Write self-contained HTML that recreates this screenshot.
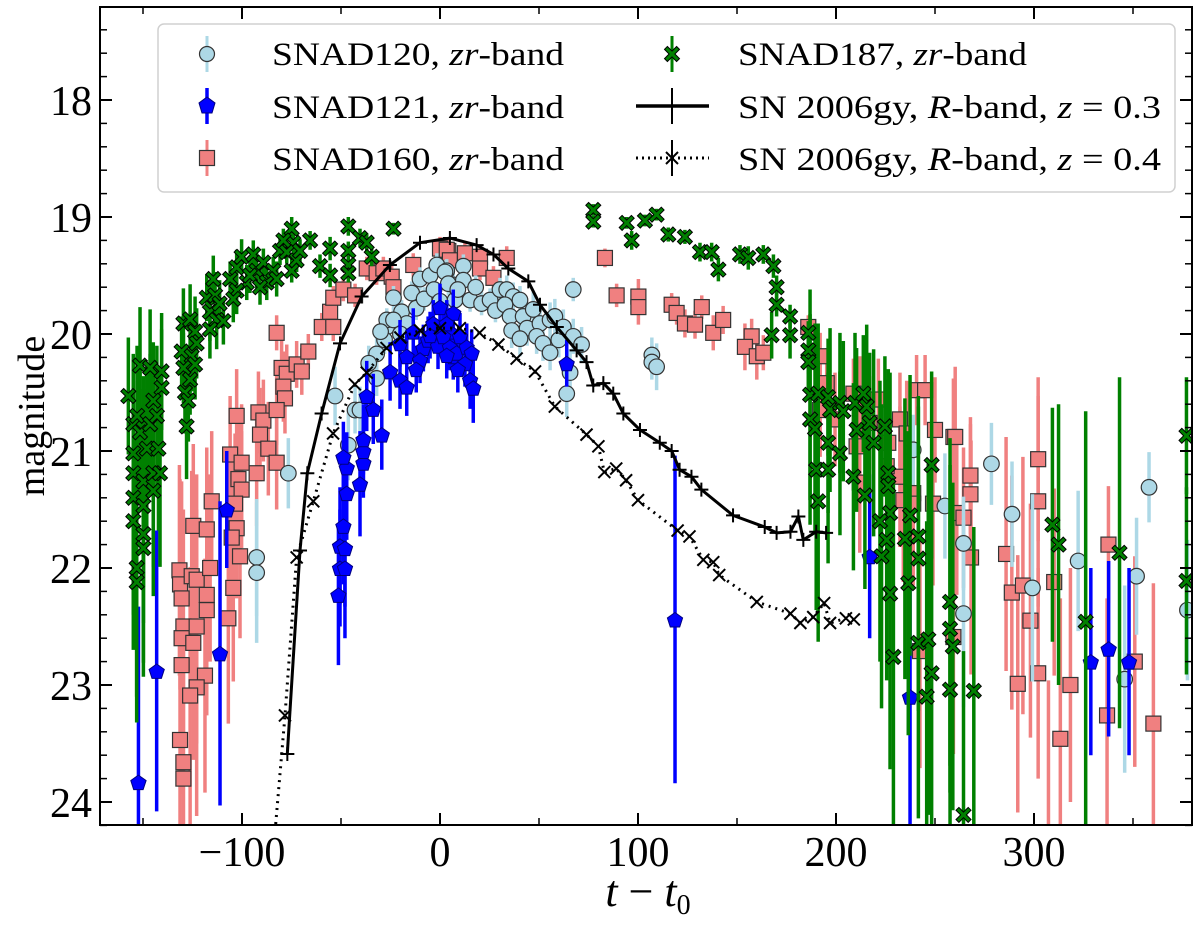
<!DOCTYPE html>
<html><head><meta charset="utf-8"><style>
html,body{margin:0;padding:0;background:#fff;width:1200px;height:925px;overflow:hidden;}
svg{display:block;font-family:"Liberation Serif","DejaVu Serif",serif;}
</style></head><body>
<svg id="chart" width="1200" height="925" viewBox="0 0 1200 925" xmlns="http://www.w3.org/2000/svg">
<g id="plot"></g>
<g id="axes"></g>
<g id="legend">
<rect x="158" y="24" width="1017" height="168" rx="6" fill="#fff" fill-opacity="0.85" stroke="#d0d0d0" stroke-width="1.5"/>
<g>
<line x1="207" y1="36" x2="207" y2="72" stroke="#add8e6" stroke-width="3"/>
<circle cx="207" cy="54" r="7.5" fill="#add8e6" stroke="#333" stroke-width="1.2"/>
<text x="272" y="65" font-size="33" textLength="292" lengthAdjust="spacingAndGlyphs">SNAD120, <tspan font-style="italic">zr</tspan>-band</text></g>
<g>
<line x1="207" y1="88" x2="207" y2="124" stroke="#0000ff" stroke-width="3.5"/>
<polygon points="207,97 215,103 212,113 202,113 199,103" fill="#0000ff" stroke="#000080" stroke-width="1"/>
<text x="272" y="118" font-size="33" textLength="292" lengthAdjust="spacingAndGlyphs">SNAD121, <tspan font-style="italic">zr</tspan>-band</text></g>
<g>
<line x1="207" y1="140" x2="207" y2="176" stroke="#f08080" stroke-width="3"/>
<rect x="199.5" y="150.5" width="15" height="15" fill="#f08080" stroke="#333" stroke-width="1.2"/>
<text x="272" y="170" font-size="33" textLength="292" lengthAdjust="spacingAndGlyphs">SNAD160, <tspan font-style="italic">zr</tspan>-band</text></g>
<g>
<line x1="672" y1="36" x2="672" y2="72" stroke="#008000" stroke-width="3"/>
<g id="legX"></g>
<text x="738" y="65" font-size="33" textLength="289" lengthAdjust="spacingAndGlyphs">SNAD187, <tspan font-style="italic">zr</tspan>-band</text></g>
<g>
<line x1="636" y1="106" x2="709" y2="106" stroke="#000" stroke-width="3.5"/>
<line x1="672" y1="88" x2="672" y2="124" stroke="#000" stroke-width="2"/>
<text x="738" y="118" font-size="33" textLength="423" lengthAdjust="spacingAndGlyphs">SN 2006gy, <tspan font-style="italic">R</tspan>-band, <tspan font-style="italic">z</tspan> = 0.3</text></g>
<g>
<line x1="636" y1="158" x2="709" y2="158" stroke="#000" stroke-width="3" stroke-dasharray="2,4"/>
<line x1="672" y1="140" x2="672" y2="176" stroke="#000" stroke-width="2"/>
<path d="M666,152 L678,164 M678,152 L666,164" stroke="#000" stroke-width="2"/>
<text x="738" y="170" font-size="33" textLength="423" lengthAdjust="spacingAndGlyphs">SN 2006gy, <tspan font-style="italic">R</tspan>-band, <tspan font-style="italic">z</tspan> = 0.4</text></g>
</g>
</svg>
<script>
// ---- data: [t - t0, magnitude, error] ----
const snad120 = [[-76.6,21.19,0.3],[-92.6,21.91,0.5],[-92.6,22.04,0.6],[-53,20.53,0.25],[-46.3,20.95,0.3],[-42.9,20.65,0.2],[-40.4,20.65,0.2],[-32,20.38,0.15],[-32,20.17,0.15],[-26.9,19.94,0.12],[-26.9,19.88,0.1],[-23.5,19.69,0.1],[-19.4,19.81,0.1],[-14.3,19.65,0.1],[-10.1,19.53,0.1],[-5,19.5,0.1],[-1.6,19.41,0.1],[3.4,19.46,0.1],[6.7,19.58,0.1],[-16.8,19.91,0.1],[-23.5,19.88,0.1],[-20,20.0,0.12],[-12,19.78,0.1],[-8,19.7,0.1],[-3,19.62,0.1],[0,19.72,0.1],[-28,20.05,0.12],[-36,20.25,0.15],[-30,19.98,0.12],[2.5,19.47,0.1],[4.2,19.57,0.1],[7.6,19.71,0.1],[11.8,19.42,0.1],[11.8,19.54,0.1],[15.2,19.71,0.1],[9,19.62,0.1],[18,19.6,0.1],[21,19.74,0.1],[25.3,19.71,0.1],[28,19.8,0.1],[30.3,19.62,0.1],[33.7,19.62,0.12],[37,19.68,0.12],[40.4,19.71,0.12],[32.8,19.75,0.12],[35.4,19.85,0.12],[42,19.85,0.15],[44,19.95,0.15],[36.2,19.97,0.15],[40.4,20.04,0.15],[47.1,19.79,0.15],[50.5,19.91,0.15],[48.8,20.02,0.15],[52,20.08,0.15],[55.6,19.88,0.15],[58,19.85,0.15],[55.6,20.16,0.15],[60,20.05,0.15],[62.3,19.94,0.15],[67.3,20.02,0.15],[71.5,20.09,0.15],[65.7,20.33,0.2],[64,20.51,0.2],[67.3,19.62,0.1],[107,20.18,0.15],[107,20.24,0.15],[109.4,20.28,0.2],[239,20.99,0.3],[255,21.47,0.45],[278.5,21.11,0.35],[288.9,21.54,0.45],[264.4,21.79,0.4],[264.4,22.39,0.8],[299.2,22.17,0.8],[322.3,21.94,0.6],[351.8,22.07,0.5],[358.1,21.31,0.3],[345.8,22.95,0.8],[377.5,22.36,0.6]];
const snad121 = [[-152.3,23.83,1.5],[-143.1,22.88,1.2],[-107.7,21.5,0.5],[-111.1,22.73,1.3],[-51.3,22.23,0.6],[-50.5,22.0,0.5],[-48,22.0,0.6],[-50.5,21.81,0.5],[-48,21.83,0.5],[-48.8,21.64,0.5],[-47.1,21.36,0.4],[-47.1,21.14,0.3],[-48.8,21.05,0.3],[-40.4,21.28,0.45],[-38.7,21.1,0.3],[-38.7,21.0,0.3],[-38.7,20.9,0.3],[-29.4,20.86,0.3],[-33.7,20.64,0.3],[-37,20.53,0.3],[-25.2,20.32,0.25],[-20.2,20.39,0.25],[-16.8,20.45,0.25],[-20.2,20.08,0.2],[-16.8,20.19,0.2],[-13.5,19.98,0.2],[-8.4,20.12,0.2],[0,19.77,0.2],[-3.4,19.91,0.2],[-10.1,20.22,0.2],[-12,20.3,0.2],[-6,20.05,0.2],[-1,20.1,0.2],[2,19.95,0.2],[5,19.98,0.2],[6.7,20.19,0.2],[-5,20.01,0.2],[6.7,19.82,0.2],[3.4,19.91,0.2],[1.7,20.02,0.2],[5,20.11,0.2],[8.4,20.16,0.2],[10.1,20.02,0.2],[13.5,20.11,0.2],[16,20.16,0.2],[12.6,20.25,0.2],[3.4,20.18,0.2],[9,20.3,0.2],[15.2,20.39,0.25],[16.8,20.46,0.3],[64,20.25,0.2],[118.7,22.44,1.4],[217,21.9,0.7],[237.4,23.1,1.2],[328.7,22.8,0.8],[337.7,22.69,0.75],[348,22.8,0.8]];
const snad160 = [[-131.6,22.02,0.9],[-131.3,22.14,0.9],[-130.5,22.26,1.0],[-125.4,22.07,0.9],[-122.9,22.1,0.9],[-117.8,22.23,0.9],[-117.8,22.36,0.9],[-116.1,22.0,0.8],[-129.6,22.5,1.0],[-130.5,22.6,1.0],[-122.9,22.5,1.0],[-124.6,22.64,1.0],[-130.5,22.83,1.1],[-118.7,22.92,1.0],[-122.9,23.02,1.1],[-126.2,23.09,1.1],[-131.3,23.47,1.2],[-129.6,23.66,1.2],[-129.6,23.8,1.2],[-124.6,21.64,0.7],[-117.8,21.67,0.7],[-115.3,21.43,0.6],[-106,21.03,0.5],[-100.2,21.1,0.5],[-101.8,21.24,0.5],[-100.2,21.33,0.5],[-103.5,21.45,0.6],[-102.7,21.66,0.6],[-105.2,21.74,0.7],[-101,21.9,0.7],[-104.4,22.17,0.8],[-106.9,22.43,0.9],[-102.7,20.7,0.4],[-91.7,20.67,0.35],[-89.2,20.74,0.35],[-90.9,20.86,0.4],[-86.7,20.98,0.4],[-82.5,21.1,0.4],[-92.6,21.19,0.45],[-82.5,19.99,0.15],[-80,20.29,0.25],[-77.4,20.34,0.25],[-72.4,20.26,0.2],[-66.5,20.15,0.15],[-69.8,20.32,0.2],[-79.1,20.45,0.3],[-78.3,20.55,0.3],[-82.5,20.65,0.3],[-59.7,19.94,0.12],[-55.5,19.81,0.12],[-53.9,19.94,0.12],[-53.9,19.69,0.1],[-48.8,19.62,0.1],[-42.9,19.67,0.1],[-37,19.44,0.1],[-32,19.48,0.1],[-28.6,19.44,0.1],[-24.4,19.51,0.1],[-23.5,19.6,0.1],[-13.5,19.41,0.1],[0,19.27,0.1],[4.2,19.29,0.1],[3.4,19.28,0.1],[5,19.37,0.1],[12.6,19.31,0.1],[20.2,19.34,0.1],[20.2,19.44,0.1],[33.7,19.35,0.1],[27,19.52,0.1],[83.3,19.35,0.08],[89.2,19.67,0.1],[100.2,19.68,0.15],[100.2,19.77,0.15],[117,19.75,0.1],[119.5,19.82,0.1],[123.7,19.91,0.12],[128.8,19.92,0.12],[132.2,19.77,0.1],[138,19.99,0.15],[143,19.88,0.12],[157.4,20.02,0.15],[154,20.11,0.2],[160,20.19,0.2],[163.3,20.16,0.15],[186,19.94,0.1],[192,20.19,0.2],[195.3,20.42,0.3],[192,20.65,0.4],[199.5,20.73,0.4],[208.8,20.51,0.3],[212,20.59,0.4],[221.4,20.56,0.35],[217,20.76,0.4],[210.4,20.96,0.5],[212,21.27,0.6],[226.4,20.93,0.5],[232.3,20.73,0.4],[235.7,20.85,0.45],[240.7,20.48,0.3],[245,20.48,0.3],[250,20.82,0.45],[259.3,20.88,0.5],[232.3,21.22,0.6],[239,21.36,0.6],[239,21.45,0.7],[234,21.42,0.7],[249,21.45,0.7],[261,21.53,0.7],[242.4,22.71,1.0],[259.3,22.59,1.0],[225.6,21.13,0.5],[260.2,20.88,0.6],[267.9,21.21,0.5],[267.9,21.37,0.6],[264.4,21.57,0.6],[268.2,21.91,1.0],[302.1,21.07,0.7],[302.1,21.43,0.9],[285.9,21.88,1.0],[288.8,22.21,1.0],[294.4,22.15,1.1],[298.2,22.45,1.0],[310.2,22.12,0.8],[291.8,22.99,1.1],[302.1,22.9,0.9],[318.4,23.0,1.0],[313.3,23.46,1.2],[337.6,21.8,0.5],[336.9,23.26,1.0],[350.9,22.8,0.9],[360.3,23.33,1.2],[307.3,24.16,1.2]];
const snad187 = [[-157.4,20.53,0.5],[-151.5,20.27,0.5],[-146.4,20.29,0.5],[-140.6,20.32,0.5],[-140.6,20.46,0.5],[-154.9,20.77,0.6],[-151.5,20.84,0.6],[-144.8,20.57,0.5],[-154.9,21.02,0.8],[-148.1,20.98,0.7],[-142.2,20.98,0.7],[-154.9,21.19,0.9],[-149.8,21.26,0.9],[-144.8,21.19,0.8],[-141.4,21.19,0.8],[-154.9,21.4,1.0],[-149.8,21.47,1.0],[-144.8,21.34,0.9],[-154.9,21.6,1.1],[-149.8,21.71,1.1],[-149.8,21.83,1.1],[-153.2,22.0,1.1],[-153.2,22.12,1.2],[-153,20.7,0.6],[-146.4,20.77,0.6],[-143,20.7,0.6],[-129.6,19.91,0.3],[-126.2,19.875,0.3],[-123.7,19.98,0.3],[-130.5,20.15,0.3],[-125.4,20.19,0.3],[-122.9,20.08,0.3],[-129.6,20.29,0.3],[-126.2,20.39,0.3],[-128.8,20.5,0.35],[-127.1,20.57,0.35],[-128,20.79,0.45],[-123.7,20.26,0.3],[-114.5,19.53,0.2],[-117.8,19.69,0.2],[-113.6,19.67,0.2],[-116.2,19.81,0.25],[-111.3,19.74,0.2],[-112.8,19.88,0.25],[-109.4,19.89,0.2],[-116.2,19.96,0.25],[-106,19.53,0.15],[-102.7,19.43,0.15],[-100.2,19.34,0.15],[-97.6,19.56,0.15],[-94.3,19.32,0.12],[-92.6,19.46,0.15],[-89.2,19.39,0.12],[-87.5,19.56,0.15],[-84.2,19.46,0.12],[-80.8,19.29,0.12],[-102.7,19.63,0.2],[-96,19.5,0.15],[-82.5,19.53,0.15],[-90.9,19.6,0.15],[-104.4,19.7,0.2],[-74.9,19.1,0.1],[-74.1,19.22,0.1],[-77.4,19.3,0.1],[-72.4,19.37,0.1],[-74.9,19.46,0.1],[-65.6,19.2,0.08],[-79.1,19.2,0.1],[-70.7,19.29,0.1],[-60.6,19.42,0.1],[-55.5,19.27,0.1],[-55.5,19.5,0.1],[-46.3,19.08,0.08],[-46.3,19.29,0.08],[-46.3,19.41,0.08],[-46.3,19.48,0.08],[-40.4,19.18,0.08],[-37,19.22,0.08],[-34.5,19.34,0.08],[-23.5,19.1,0.05],[77.4,18.94,0.05],[77.4,19.04,0.05],[94.3,19.05,0.05],[96.8,19.2,0.08],[103.5,19.03,0.05],[109.4,18.98,0.05],[115.3,19.15,0.06],[123.7,19.17,0.06],[131.3,19.3,0.08],[137.2,19.3,0.08],[140.6,19.45,0.1],[151.5,19.32,0.08],[155.7,19.35,0.1],[163.3,19.32,0.08],[168.4,19.42,0.1],[170,19.6,0.1],[170,19.75,0.1],[176.8,19.85,0.1],[167.5,20.01,0.2],[176.8,20.01,0.2],[186,19.99,0.1],[186,20.14,0.2],[186,20.24,0.3],[186.9,20.52,0.9],[191,20.51,0.6],[196,20.54,0.5],[186.9,20.73,0.9],[189.4,20.81,0.9],[197,20.65,0.7],[202,20.59,0.6],[203.7,20.66,0.6],[196,20.93,0.6],[202,21.02,0.7],[190,21.16,1.2],[196,21.16,0.8],[191,21.43,1.2],[209.6,20.59,0.6],[213.8,20.51,0.5],[215.5,20.62,0.7],[210.4,20.82,0.7],[217,20.76,0.6],[219,20.93,0.8],[208.8,21.22,0.8],[214.6,21.38,0.8],[224.7,20.79,0.6],[226.4,21.19,0.8],[226.4,21.3,1.0],[227.3,21.53,1.2],[222.2,21.6,1.2],[225.6,21.76,1.2],[223,21.9,1.3],[227.3,22.22,1.5],[229,22.76,1.5],[237.4,21.55,1.2],[234.8,21.75,1.2],[241.6,21.73,1.2],[241.6,21.92,1.3],[236.5,22.13,1.3],[241.6,22.64,1.5],[246.6,22.61,1.5],[248.3,21.12,0.8],[257.6,22.29,1.4],[257.6,22.52,1.4],[248.3,22.9,1.4],[245.8,23.1,1.5],[257.6,23.04,1.5],[259,22.67,1.4],[309.3,21.63,1.0],[312.4,21.8,1.2],[326.1,22.46,1.8],[343.2,21.87,1.5],[269.6,23.05,1.4],[264.4,24.11,1.4],[377,22.11,0.8],[377,20.87,0.5]];
const gy03_t = [-77.1,-70.7,-67,-59.8,-50.5,-39.6,-25.3,-10.1,5,18.5,27,34.5,44.6,50.5,59,69,74,77.4,82.5,87.5,92.6,101,111,117,121,127,132,148,164,170,177,181,183.5,190,195];
const gy03_m = [23.59,21.85,21.19,20.68,20.08,19.68,19.41,19.22,19.18,19.24,19.32,19.44,19.55,19.75,19.94,20.14,20.24,20.44,20.42,20.51,20.68,20.82,20.93,21.0,21.16,21.22,21.33,21.55,21.65,21.7,21.69,21.56,21.76,21.69,21.7];
const gy04_t = [-83,-78.3,-72.4,-64,-54,-43,-37,-27,-20,-10,0,10,20,29.5,38.7,48,58,74,80,83,89,94,100,120,126,133,138,141,160,177,182,188.5,194,197,205,209];
const gy04_m = [24.3,23.26,21.91,21.43,20.85,20.43,20.33,20.12,20.03,19.97,19.95,19.95,19.99,20.09,20.21,20.32,20.62,20.86,20.96,21.18,21.15,21.25,21.42,21.68,21.73,21.93,21.95,22.06,22.29,22.39,22.47,22.42,22.3,22.47,22.43,22.44];
const xTicks = [-100,0,100,200,300];
const xMinor = [-150,-50,50,150,250,350];
const yTicks = [18,19,20,21,22,23,24];

// ---- axes ----
const L=100,R=1192,T=7,B=825, X0=440, XS=1.98, Y18=100, YS=117;
const X = t => X0 + t*XS;
const Y = m => Y18 + (m-18)*YS;
const cy = v => Math.max(T+1, Math.min(B-1, v));
const NS='http://www.w3.org/2000/svg';
const plot=document.getElementById('plot'), axes=document.getElementById('axes');
function mk(tag,attrs,parent){const e=document.createElementNS(NS,tag);for(const k in attrs)e.setAttribute(k,attrs[k]);parent.appendChild(e);return e;}
const clip=mk('clipPath',{id:'clp'},plot); mk('rect',{x:L,y:T,width:R-L,height:B-T},clip);
const g=mk('g',{'clip-path':'url(#clp)'},plot);



function xShape(cx,cy0,s){const a=s*0.38,b=s;
 const p=[[0,-a],[b-a,-b],[b,-b+a],[a,0],[b,b-a],[b-a,b],[0,a],[-b+a,b],[-b,b-a],[-a,0],[-b,-b+a],[-b+a,-b]];
 return p.map(q=>(cx+q[0]).toFixed(1)+','+(cy0+q[1]).toFixed(1)).join(' ');}
function pent(cx,cy0,r){let s=[];for(let i=0;i<5;i++){const a=-Math.PI/2+i*2*Math.PI/5;s.push((cx+r*Math.cos(a)).toFixed(1)+','+(cy0+r*Math.sin(a)).toFixed(1));}return s.join(' ');}

function series(data,name,ecol,ew,drawMarker){
 const sg=mk('g',{},g);
 
 
 data.forEach(d=>{const x=X(d[0]);
  const el=mk('line',{x1:x,x2:x,y1:cy(Y(d[1]-d[2])),y2:cy(Y(d[1]+d[2])),stroke:ecol,'stroke-width':ew},sg);
  
  });
 data.forEach(d=>{const yy=Y(d[1]); if(yy>B-8) return;
  const m=drawMarker(X(d[0]),yy,sg);
  
  });
}
series(snad160,'snad160','#f08080',3.5,(x,y,p)=>mk('rect',{x:x-7.5,y:y-7.5,width:15,height:15,fill:'#f08080',stroke:'#333','stroke-width':1.2},p));
series(snad120,'snad120','#add8e6',3.5,(x,y,p)=>mk('circle',{cx:x,cy:y,r:7.8,fill:'#add8e6',stroke:'#333','stroke-width':1.2},p));
series(snad121,'snad121','#0000ff',3.5,(x,y,p)=>mk('polygon',{points:pent(x,y+1,8),fill:'#0000ff',stroke:'#000080','stroke-width':1},p));
series(snad187,'snad187','#008000',3.5,(x,y,p)=>mk('polygon',{points:xShape(x,y,7.5),fill:'#008000',stroke:'#000','stroke-width':1},p));

function curve(ts,ms,name,dash,marker){
 const pts=ts.map((t,i)=>X(t).toFixed(1)+','+cy(Y(ms[i])).toFixed(1)).join(' ');
 const pl=mk('polyline',{points:pts,fill:'none',stroke:'#000','stroke-width':3,'stroke-dasharray':dash,'stroke-linejoin':'round'},g);
 
 
 ts.forEach((t,i)=>{const x=X(t),y=Y(ms[i]); if(y>B-8) return;
  const d= marker==='+' ? `M${x-7},${y} L${x+7},${y} M${x},${y-7} L${x},${y+7}` : `M${x-6},${y-6} L${x+6},${y+6} M${x+6},${y-6} L${x-6},${y+6}`;
  const m=mk('path',{d:d,stroke:'#000','stroke-width':2,fill:'none'},g);
  
  });
}
curve(gy03_t,gy03_m,'sn2006gy-z03','none','+');
curve(gy04_t,gy04_m,'sn2006gy-z04','2,5','x');

// frame & ticks
const fr=mk('rect',{x:L,y:T,width:R-L,height:B-T,fill:'none',stroke:'#000','stroke-width':2},axes);


xTicks.forEach(t=>{const x=X(t);
 mk('line',{x1:x,x2:x,y1:B,y2:B-12,stroke:'#000','stroke-width':2},axes);
 mk('line',{x1:x,x2:x,y1:T,y2:T+12,stroke:'#000','stroke-width':2},axes);
 const tx=mk('text',{x:x,y:866,'font-size':42,'text-anchor':'middle'},axes);
 tx.textContent=(t<0?'\u2212':'')+Math.abs(t);
 
 });
xMinor.forEach(t=>{const x=X(t);
 mk('line',{x1:x,x2:x,y1:B,y2:B-7,stroke:'#000','stroke-width':1.5},axes);
 mk('line',{x1:x,x2:x,y1:T,y2:T+7,stroke:'#000','stroke-width':1.5},axes);});
yTicks.forEach(m=>{const y=Y(m);
 mk('line',{x1:L,x2:L+12,y1:y,y2:y,stroke:'#000','stroke-width':2},axes);
 mk('line',{x1:R,x2:R-12,y1:y,y2:y,stroke:'#000','stroke-width':2},axes);
 const tx=mk('text',{x:92,y:y+15,'font-size':42,'text-anchor':'end'},axes);
 tx.textContent=m;
 
 });
for(let m=17.4;m<24.2;m+=0.2){const r=Math.round(m*10)/10; if(Math.abs(r-Math.round(r))<0.01)continue;const y=Y(r);
 mk('line',{x1:L,x2:L+7,y1:y,y2:y,stroke:'#000','stroke-width':1.5},axes);
 mk('line',{x1:R,x2:R-7,y1:y,y2:y,stroke:'#000','stroke-width':1.5},axes);}
const yl=mk('text',{x:0,y:0,'font-size':38,'text-anchor':'middle',transform:'translate(44,416) rotate(-90)'},axes);
yl.textContent='magnitude';


const xl=mk('text',{x:648,y:906,'font-size':44,'text-anchor':'middle'},axes);
xl.innerHTML='<tspan font-style="italic">t</tspan> \u2212 <tspan font-style="italic">t</tspan><tspan font-size="28" dy="8">0</tspan>';


const lx=mk('polygon',{points:xShape(672,54,7.5),fill:'#008000',stroke:'#000','stroke-width':1},document.getElementById('legX'));


</script>
</body></html>
